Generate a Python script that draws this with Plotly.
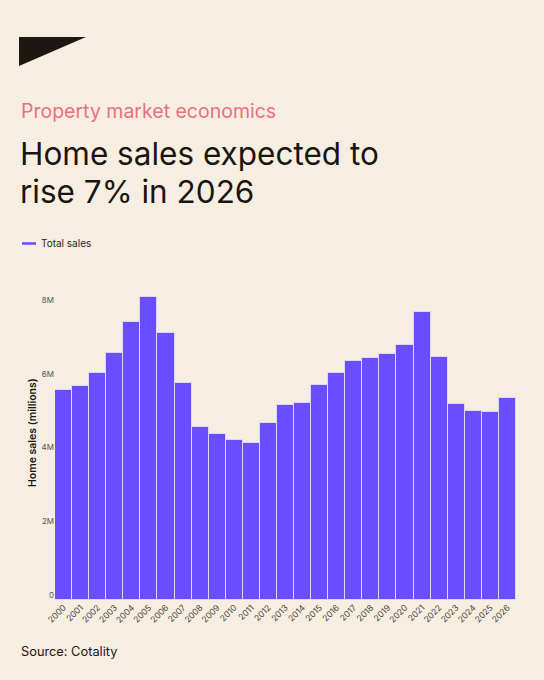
import plotly.graph_objects as go

# chart values (home sales, millions)
years = [str(y) for y in range(2000, 2027)]
sales = [5.70, 5.80, 6.15, 6.69, 7.54, 8.21, 7.23, 5.89, 4.68, 4.49, 4.35, 4.27, 4.80,
         5.30, 5.34, 5.83, 6.16, 6.48, 6.57, 6.66, 6.93, 7.82, 6.60, 5.33, 5.12, 5.11, 5.47]
y_tickvals = [0, 2, 4, 6, 8]
y_ticktext = ['0', '2M', '4M', '6M', '8M']

W, H = 544, 680
L, R, T, B = 55, 28, 294, 80
BG = '#F7EEE2'
PURPLE = '#6A4DFF'
FONT = 'Inter'

def px(x):
    return (x - L) / (W - L - R)

def py(y):
    return (H - B - y) / (H - T - B)

fig = go.Figure()
fig.add_trace(go.Bar(x=years, y=sales, name='Total sales',
                     marker=dict(color=PURPLE, line=dict(color='#DCD5FF', width=1)),
                     showlegend=False))

def text(s, x, y, size, color, anchor='middle', weight=400, angle=0, xanchor='left'):
    fig.add_annotation(text=s, x=px(x), y=py(y), xref='paper', yref='paper',
                       xanchor=xanchor, yanchor=anchor, showarrow=False, textangle=angle,
                       font=dict(family=FONT, size=size, color=color, weight=weight))

text('Property market economics', 19, 111, 19.5, '#EC7080')
text('Home sales expected to', 18, 153, 31.5, '#1B1511')
text('rise 7% in 2026', 18, 191, 31.5, '#1B1511')
text('Total sales', 39, 243.5, 10, '#2A231E')
text('Source: Cotality', 19, 651, 12.8, '#1B1511')
text('Home sales (millions)', 32, 433, 10.5, '#1B1511', weight=600, angle=-90, xanchor='center')

# legend swatch
fig.add_shape(type='line', xref='paper', yref='paper', x0=px(22), x1=px(36),
              y0=py(243.5), y1=py(243.5), line=dict(color=PURPLE, width=2.5))
# logo wedge
fig.add_shape(type='path', xref='paper', yref='paper',
              path='M {} {} L {} {} L {} {} Z'.format(px(19), py(37), px(86), py(37), px(19), py(66)),
              fillcolor='#1E1610', line=dict(width=0))

fig.update_layout(
    width=W, height=H, margin=dict(l=L, r=R, t=T, b=B),
    paper_bgcolor=BG, plot_bgcolor=BG, bargap=0,
    font=dict(family=FONT),
    xaxis=dict(showgrid=False, zeroline=False, showline=False, tickangle=-45,
               tickfont=dict(size=8.5, color='#4A433D'), ticks=''),
    yaxis=dict(range=[0, 8.3], showgrid=False, zeroline=False, showline=False,
               tickvals=y_tickvals, ticktext=y_ticktext, ticks='',
               tickfont=dict(size=8, color='#5A524B'), ticklabelshift=-5),
)

fig.write_html('out.html', config={'displayModeBar': False},
               post_script="document.body.style.margin='0';document.body.style.overflow='hidden';")
